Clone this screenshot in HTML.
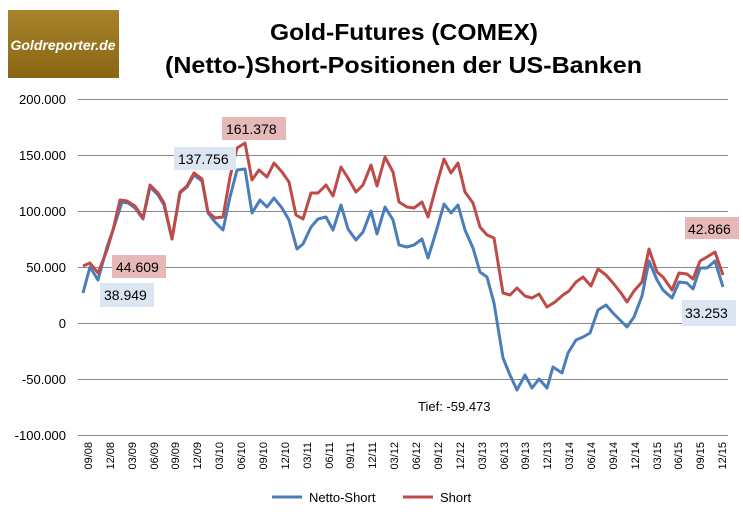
<!DOCTYPE html>
<html><head><meta charset="utf-8"><style>
body{margin:0;background:#fff;}
svg{display:block;font-family:"Liberation Sans",sans-serif;}
</style></head><body>
<svg width="743" height="515" viewBox="0 0 743 515" xmlns="http://www.w3.org/2000/svg">
<defs><linearGradient id="lg" x1="0" y1="0" x2="0" y2="1"><stop offset="0" stop-color="#a8832c"/><stop offset="1" stop-color="#8a6614"/></linearGradient></defs>
<rect x="8" y="10" width="111" height="68" fill="url(#lg)"/>
<text x="63" y="50" text-anchor="middle" fill="#fff" font-size="14" font-weight="bold" font-style="italic">Goldreporter.de</text>
<text x="270" y="40" font-size="23" font-weight="bold" textLength="268" lengthAdjust="spacingAndGlyphs">Gold-Futures (COMEX)</text>
<text x="165" y="73" font-size="23" font-weight="bold" textLength="477" lengthAdjust="spacingAndGlyphs">(Netto-)Short-Positionen der US-Banken</text>
<g stroke="#888" stroke-width="1">
<line x1="78" y1="99.5" x2="728" y2="99.5"/><line x1="78" y1="155.5" x2="728" y2="155.5"/><line x1="78" y1="211.5" x2="728" y2="211.5"/><line x1="78" y1="267.5" x2="728" y2="267.5"/><line x1="78" y1="323.5" x2="728" y2="323.5"/><line x1="78" y1="379.5" x2="728" y2="379.5"/><line x1="78" y1="435.5" x2="728" y2="435.5"/>
</g>
<g font-size="13" text-anchor="end">
<text x="66" y="104">200.000</text><text x="66" y="160">150.000</text><text x="66" y="216">100.000</text><text x="66" y="272">50.000</text><text x="66" y="328">0</text><text x="66" y="384">-50.000</text><text x="66" y="440">-100.000</text>
</g>
<polyline fill="none" stroke="#4a7ebb" stroke-width="3" stroke-linejoin="round" points="83,293 90,267 98,280 107,247 113,230 122,202 128,203 135,208 143,219 150,187 158,195 164,205 172,239 180,193 187,187 194,175 202,181 208,213 215,222 223,230 230,197 237,170 245,169 252,213 260,200 267,207 274,198 282,208 289,220 297,249 303,244 311,227 318,219 326,217 333,230 341,205 348,229 356,240 363,232 371,211 377,234 385,207 393,220 399,245 407,247 414,245 422,239 428,258 436,232 444,204 451,213 458,205 465,230 473,248 480,272 487,277 494,303 503,358 510,375 517,390 525,375 532,388 539,379 547,388 553,367 562,373 568,353 576,340 583,337 590,333 598,310 606,305 613,313 621,321 627,327 634,317 642,296 649,261 657,280 663,290 672,298 679,282 687,283 693,289 700,268 707,268 715,261 723,287"/>
<polyline fill="none" stroke="#be4b48" stroke-width="3" stroke-linejoin="round" points="83,266 90,263 98,273 107,250 113,230 120,200 127,201 135,206 143,218 150,185 158,193 164,203 172,239 180,192 187,186 194,173 202,179 208,212 215,218 223,217 230,177 237,148 245,143 252,180 259,170 267,177 274,163 282,172 289,182 296,215 303,219 311,193 318,193 326,185 333,196 341,167 348,178 356,192 363,185 371,165 377,186 385,157 393,172 399,202 407,207 414,208 422,202 428,217 436,187 444,159 451,173 458,163 465,192 473,203 480,227 487,235 494,238 503,293 510,295 517,288 525,296 532,298 539,294 547,307 555,302 563,295 569,291 576,282 583,277 591,286 598,269 606,275 613,283 621,293 627,302 634,291 642,282 649,249 657,272 663,277 672,290 679,273 687,274 693,279 700,261 707,257 715,252 723,275"/>
<g font-size="14">
<rect x="222" y="117" width="64" height="23" fill="#e6b9b8"/><text x="226" y="134">161.378</text>
<rect x="174" y="147" width="62" height="23" fill="#dce6f2"/><text x="178" y="164">137.756</text>
<rect x="112" y="255" width="54" height="23" fill="#e6b9b8"/><text x="116" y="272">44.609</text>
<rect x="100" y="283" width="54" height="24" fill="#dce6f2"/><text x="104" y="300">38.949</text>
<rect x="685" y="217" width="54" height="22" fill="#e6b9b8"/><text x="688" y="234">42.866</text>
<rect x="682" y="300" width="54" height="26" fill="#dce6f2"/><text x="685" y="318">33.253</text>
<text x="418" y="411" font-size="13">Tief: -59.473</text>
</g>
<line x1="272" y1="497" x2="302" y2="497" stroke="#4a7ebb" stroke-width="3"/>
<text x="309" y="502" font-size="13">Netto-Short</text>
<line x1="403" y1="497" x2="433" y2="497" stroke="#be4b48" stroke-width="3"/>
<text x="440" y="502" font-size="13">Short</text>
<g font-size="11" text-anchor="end">
<text transform="translate(92,442) rotate(-90)">09/08</text>
<text transform="translate(114,442) rotate(-90)">12/08</text>
<text transform="translate(136,442) rotate(-90)">03/09</text>
<text transform="translate(158,442) rotate(-90)">06/09</text>
<text transform="translate(179,442) rotate(-90)">09/09</text>
<text transform="translate(201,442) rotate(-90)">12/09</text>
<text transform="translate(223,442) rotate(-90)">03/10</text>
<text transform="translate(245,442) rotate(-90)">06/10</text>
<text transform="translate(267,442) rotate(-90)">09/10</text>
<text transform="translate(289,442) rotate(-90)">12/10</text>
<text transform="translate(311,442) rotate(-90)">03/11</text>
<text transform="translate(333,442) rotate(-90)">06/11</text>
<text transform="translate(354,442) rotate(-90)">09/11</text>
<text transform="translate(376,442) rotate(-90)">12/11</text>
<text transform="translate(398,442) rotate(-90)">03/12</text>
<text transform="translate(420,442) rotate(-90)">06/12</text>
<text transform="translate(442,442) rotate(-90)">09/12</text>
<text transform="translate(464,442) rotate(-90)">12/12</text>
<text transform="translate(486,442) rotate(-90)">03/13</text>
<text transform="translate(508,442) rotate(-90)">06/13</text>
<text transform="translate(529,442) rotate(-90)">09/13</text>
<text transform="translate(551,442) rotate(-90)">12/13</text>
<text transform="translate(573,442) rotate(-90)">03/14</text>
<text transform="translate(595,442) rotate(-90)">06/14</text>
<text transform="translate(617,442) rotate(-90)">09/14</text>
<text transform="translate(639,442) rotate(-90)">12/14</text>
<text transform="translate(661,442) rotate(-90)">03/15</text>
<text transform="translate(682,442) rotate(-90)">06/15</text>
<text transform="translate(704,442) rotate(-90)">09/15</text>
<text transform="translate(726,442) rotate(-90)">12/15</text>
</g>
</svg>
</body></html>
